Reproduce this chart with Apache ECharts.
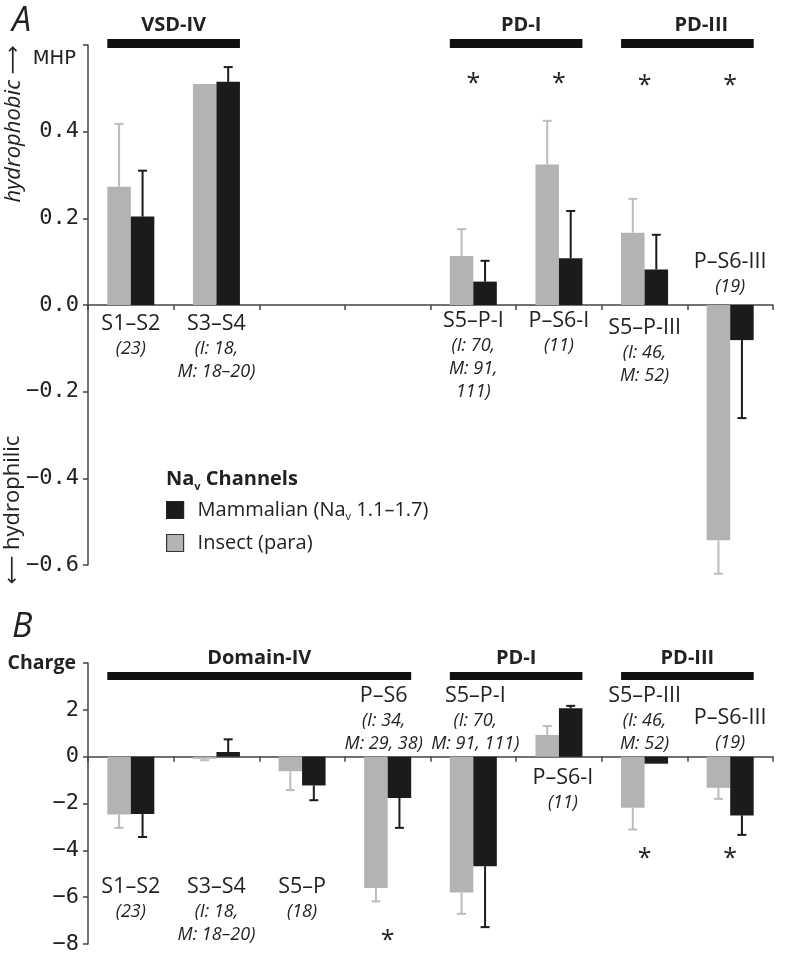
<!DOCTYPE html>
<html>
<head>
<meta charset="utf-8">
<script src="https://cdn.jsdelivr.net/npm/echarts@6/dist/echarts.min.js"></script>
<style>
  html, body { margin: 0; background: #fff; }
  #chart { width: 812px; height: 958px; }
</style>
</head>
<body>
<div id="chart"></div>
<script>
// segments, same 8 slots in both panels
const categories = ['S1–S2', 'S3–S4', 'S5–P', 'P–S6', 'S5–P-I', 'P–S6-I', 'S5–P-III', 'P–S6-III'];

// A: mean hydrophobic moment, bar + one-sided SD
const mhpNames = ['S1–S2', 'S3–S4', '', '', 'S5–P-I', 'P–S6-I', 'S5–P-III', 'P–S6-III'];
const mhpN = ['(23)', '(I: 18,\nM: 18–20)', '', '', '(I: 70,\nM: 91,\n111)', '(11)', '(I: 46,\nM: 52)', '(19)'];
const mhpInsect = [0.273, 0.510, null, null, 0.113, 0.324, 0.167, -0.543];
const mhpInsectSd = [0.145, 0, null, null, 0.062, 0.101, 0.078, 0.077];
const mhpMammal = [0.204, 0.515, null, null, 0.054, 0.108, 0.082, -0.081];
const mhpMammalSd = [0.106, 0.034, null, null, 0.048, 0.109, 0.080, 0.180];
const mhpStar = [0, 0, 0, 0, 1, 1, 1, 1];
const mhpDomains = ['VSD-IV', 'PD-I', 'PD-III'];
const mhpDomainSpan = [[0, 1], [4, 5], [6, 7]];

// B: net charge
const chargeNames = categories;
const chargeN = ['(23)', '(I: 18,\nM: 18–20)', '(18)', '(I: 34,\nM: 29, 38)', '(I: 70,\nM: 91, 111)', '(11)', '(I: 46,\nM: 52)', '(19)'];
const chargeInsect = [-2.47, -0.09, -0.62, -5.61, -5.80, 0.93, -2.18, -1.33];
const chargeInsectSd = [0.57, 0.06, 0.81, 0.57, 0.91, 0.38, 0.93, 0.47];
const chargeMammal = [-2.45, 0.20, -1.23, -1.76, -4.68, 2.07, -0.30, -2.51];
const chargeMammalSd = [0.98, 0.54, 0.63, 1.28, 2.60, 0.10, 0, 0.83];
const chargeStar = [0, 0, 0, 1, 0, 0, 1, 1];
const chargeDomains = ['Domain-IV', 'PD-I', 'PD-III'];
const chargeDomainSpan = [[0, 3], [4, 5], [6, 7]];

// layout: where the segment labels / asterisks sit (in axis units)
const mhpLabelAt = [-0.013, -0.013, 0, 0, -0.006, -0.006, -0.022, 0.131];
const chargeLabelAt = [-4.98, -4.98, -4.98, 3.16, 3.16, -0.35, 3.16, 2.22];
const chargeLabelDx = [0, 0, 0, -4, 2, 4, 0, 0];
const mhpStarAt = [0, 0, 0, 0, 0.52, 0.52, 0.515, 0.515];
const chargeStarAt = [0, 0, 0, -7.7, 0, 0, -4.18, -4.18];

const BAR_W = 23.5;
const GRAY = '#b3b3b3';
const GRAY_ERR = '#bcbcbc';
const BLACK = '#1b1b1b';
const TXT = '#222';
const SANS = '"Open Sans", sans-serif';
const MONO = '"DejaVu Sans Mono", monospace';
const DEJAVU = '"DejaVu Sans", sans-serif';

const chart = echarts.init(document.getElementById('chart'));

function errorSeries(g, vals, sds, side, color) {
    return {
        type: 'custom', xAxisIndex: g, yAxisIndex: g, z: 4, silent: true, clip: false,
        data: vals.map((v, i) => [i, v, sds[i]]).filter(d => d[1] != null && d[2]),
        encode: {x: 0, y: 1},
        renderItem: (params, api) => {
            const v = api.value(1), sd = api.value(2);
            const base = api.coord([api.value(0), v]);
            const tip = api.coord([api.value(0), v < 0 ? v - sd : v + sd]);
            const x = base[0] + side * BAR_W / 2;
            const st = {stroke: color, lineWidth: 2};
            return {
                type: 'group', children: [
                    {type: 'line', shape: {x1: x, y1: base[1], x2: x, y2: tip[1]}, style: st},
                    {type: 'line', shape: {x1: x - 4.5, y1: tip[1], x2: x + 4.5, y2: tip[1]}, style: st}
                ]
            };
        }
    };
}

function labelSeries(g, names, ns, at, dx) {
    return {
        type: 'custom', xAxisIndex: g, yAxisIndex: g, z: 5, silent: true, clip: false,
        data: names.map((n, i) => [i, at[i]]).filter(d => names[d[0]]),
        encode: {x: 0, y: 1},
        renderItem: (params, api) => {
            const i = api.value(0);
            const p = api.coord([i, api.value(1)]);
            let lines = ['{n|' + names[i] + '}'];
            if (ns[i]) lines = lines.concat(ns[i].split('\n').map(s => '{i|' + s + '}'));
            return {
                type: 'text', x: p[0] + (dx ? dx[i] : 0), y: p[1],
                style: {
                    text: lines.join('\n'), align: 'center', verticalAlign: 'top',
                    rich: {
                        n: {fontFamily: SANS, fontSize: 21.5, lineHeight: 27, fill: TXT, color: TXT},
                        i: {fontFamily: SANS, fontSize: 18, fontStyle: 'italic', lineHeight: 23, fill: TXT, color: TXT}
                    }
                }
            };
        }
    };
}

function starSeries(g, stars, at) {
    return {
        type: 'custom', xAxisIndex: g, yAxisIndex: g, z: 5, silent: true, clip: false,
        data: stars.map((s, i) => [i, at[i]]).filter(d => stars[d[0]]),
        encode: {x: 0, y: 1},
        renderItem: (params, api) => {
            const p = api.coord([api.value(0), api.value(1)]);
            return {
                type: 'text', x: p[0], y: p[1] + 4,
                style: {text: '*', font: '25px ' + SANS, fill: TXT, align: 'center', verticalAlign: 'middle'}
            };
        }
    };
}

function domainSeries(g, labels, spans, barTop, barH, labelDy, labelDx) {
    return {
        type: 'custom', xAxisIndex: g, yAxisIndex: g, z: 5, silent: true, clip: false,
        data: spans.map((s, k) => [s[0], s[1], k]),
        encode: {x: [0, 1]},
        renderItem: (params, api) => {
            const x1 = api.coord([api.value(0), 0])[0] - BAR_W;
            const x2 = api.coord([api.value(1), 0])[0] + BAR_W;
            const top = params.coordSys.y;
            const k = api.value(2);
            return {
                type: 'group', children: [
                    {type: 'rect', shape: {x: x1, y: top + barTop, width: x2 - x1, height: barH}, style: {fill: '#111'}},
                    {
                        type: 'text', x: (x1 + x2) / 2 + labelDx[k], y: top + labelDy,
                        style: {text: labels[k], font: 'bold 20px ' + SANS, fill: TXT, align: 'center', verticalAlign: 'middle'}
                    }
                ]
            };
        }
    };
}

function barSeries(g, name, vals, color) {
    return {
        type: 'bar', name: name, xAxisIndex: g, yAxisIndex: g, z: 3,
        barWidth: BAR_W, barGap: '0%', silent: true,
        itemStyle: {color: color},
        data: vals
    };
}

const xAxisBase = {
    type: 'category', data: categories,
    axisLine: {onZero: true, lineStyle: {color: '#444', width: 1.5}},
    axisTick: {show: true, length: 5, lineStyle: {color: '#444', width: 1.5}},
    axisLabel: {show: false},
    splitLine: {show: false}
};

const yAxisBase = {
    type: 'value',
    axisLine: {show: true, lineStyle: {color: '#444', width: 1.5}},
    axisTick: {show: true, length: 5, lineStyle: {color: '#444', width: 1.5}},
    splitLine: {show: false}
};

chart.setOption({
    animation: false,
    backgroundColor: '#fff',
    grid: [
        {left: 88, right: 39, top: 45, height: 520},
        {left: 88, right: 39, top: 663, height: 281}
    ],
    xAxis: [
        Object.assign({gridIndex: 0}, xAxisBase),
        Object.assign({gridIndex: 1}, xAxisBase)
    ],
    yAxis: [
        Object.assign({}, yAxisBase, {
            gridIndex: 0, min: -0.6, max: 0.6, interval: 0.2,
            axisLabel: {
                margin: 9, color: TXT, fontFamily: MONO, fontSize: 22,
                formatter: v => Math.abs(v - 0.6) < 1e-6 ? '{m|MHP}' : v.toFixed(1).replace('-', '−'),
                rich: {m: {fontFamily: DEJAVU, fontSize: 19.5, color: TXT, padding: [27, 3, 0, 0]}}
            }
        }),
        Object.assign({}, yAxisBase, {
            gridIndex: 1, min: -8, max: 4, interval: 2,
            axisLabel: {
                margin: 9, color: TXT, fontFamily: MONO, fontSize: 22,
                formatter: v => v === 4 ? '{c|Charge}' : String(v).replace('-', '−'),
                rich: {c: {fontFamily: SANS, fontWeight: 'bold', fontSize: 19.5, color: TXT, padding: [0, 3, 0, 0]}}
            }
        })
    ],
    legend: {
        orient: 'vertical', left: 166, top: 500, padding: 0,
        itemWidth: 17, itemHeight: 17, itemGap: 11, icon: 'rect',
        selectedMode: false,
        data: [
            {name: 'Mammalian', itemStyle: {borderColor: '#222', borderWidth: 1.2}},
            {name: 'Insect', itemStyle: {borderColor: '#333', borderWidth: 1.2}}
        ],
        formatter: n => n === 'Mammalian' ? '{t|Mammalian (Na}{s|v}{t| 1.1–1.7)}' : '{t|Insect (para)}',
        textStyle: {
            padding: [0, 0, 0, 9],
            rich: {
                t: {fontFamily: SANS, fontSize: 20, color: TXT, lineHeight: 24},
                s: {fontFamily: SANS, fontSize: 11, color: TXT, verticalAlign: 'bottom', lineHeight: 11}
            }
        }
    },
    graphic: [
        {type: 'text', left: 12, top: 4, style: {text: 'A', font: 'italic 34px ' + SANS, fill: TXT}},
        {type: 'text', left: 12, top: 610, style: {text: 'B', font: 'italic 34px ' + SANS, fill: TXT}},
        {
            type: 'text', x: 14, y: 124, rotation: Math.PI / 2,
            style: {
                text: '{t|hydrophobic }{a|⟶}', align: 'center', verticalAlign: 'middle',
                rich: {
                    t: {fontFamily: SANS, fontStyle: 'italic', fontSize: 22, fill: TXT, color: TXT},
                    a: {fontFamily: DEJAVU, fontSize: 20, fill: TXT, color: TXT}
                }
            }
        },
        {
            type: 'text', x: 13, y: 510, rotation: Math.PI / 2,
            style: {
                text: '{a|⟵}{t| hydrophilic}', align: 'center', verticalAlign: 'middle',
                rich: {
                    t: {fontFamily: SANS, fontSize: 22, fill: TXT, color: TXT},
                    a: {fontFamily: DEJAVU, fontSize: 20, fill: TXT, color: TXT}
                }
            }
        },
        {
            type: 'text', left: 166, top: 469,
            style: {
                text: '{b|Na}{s|v}{b| Channels}',
                rich: {
                    b: {fontFamily: SANS, fontWeight: 'bold', fontSize: 20, fill: TXT, color: TXT, lineHeight: 26},
                    s: {fontFamily: SANS, fontWeight: 'bold', fontSize: 11, fill: TXT, color: TXT, verticalAlign: 'bottom', lineHeight: 11}
                }
            }
        }
    ],
    series: [
        barSeries(0, 'Insect', mhpInsect, GRAY),
        barSeries(0, 'Mammalian', mhpMammal, BLACK),
        errorSeries(0, mhpInsect, mhpInsectSd, -1, GRAY_ERR),
        errorSeries(0, mhpMammal, mhpMammalSd, 1, BLACK),
        labelSeries(0, mhpNames, mhpN, mhpLabelAt),
        starSeries(0, mhpStar, mhpStarAt),
        domainSeries(0, mhpDomains, mhpDomainSpan, -6, 9, -20, [0, 5, 14]),

        barSeries(1, 'Insect', chargeInsect, GRAY),
        barSeries(1, 'Mammalian', chargeMammal, BLACK),
        errorSeries(1, chargeInsect, chargeInsectSd, -1, GRAY_ERR),
        errorSeries(1, chargeMammal, chargeMammalSd, 1, BLACK),
        labelSeries(1, chargeNames, chargeN, chargeLabelAt, chargeLabelDx),
        starSeries(1, chargeStar, chargeStarAt),
        domainSeries(1, chargeDomains, chargeDomainSpan, 9, 8, -5, [0, 0, 0])
    ]
});
</script>
</body>
</html>
